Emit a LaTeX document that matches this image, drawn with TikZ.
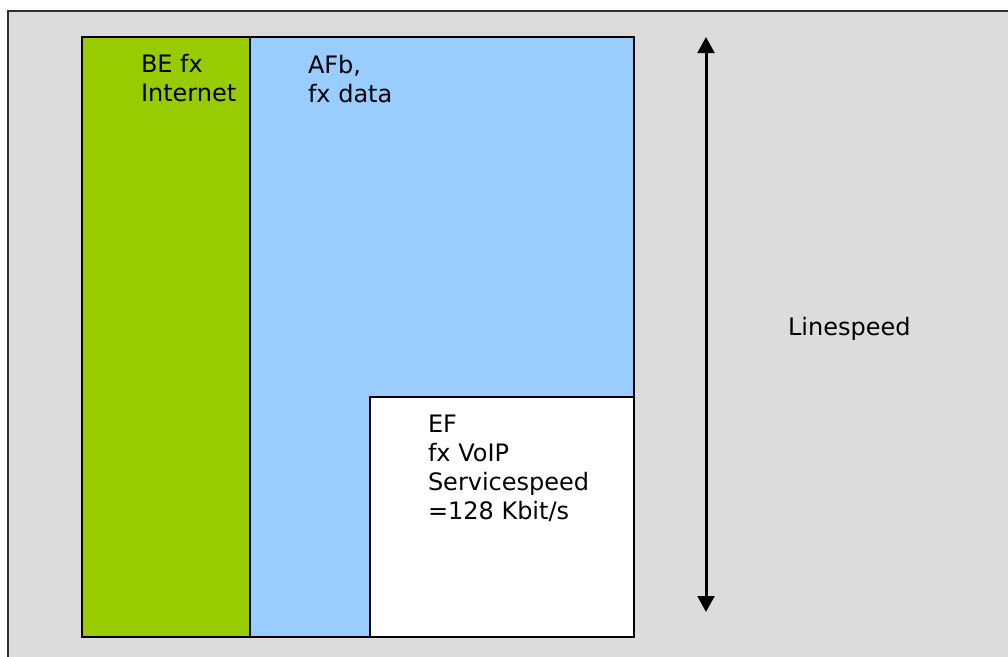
\documentclass[tikz,border=0pt]{standalone}
\usepackage{fontspec}
\setmainfont{DejaVu Sans}
\usetikzlibrary{arrows.meta}
\definecolor{bggray}{HTML}{DCDCDC}
\definecolor{framegray}{HTML}{303030}
\definecolor{begreen}{HTML}{99CC00}
\definecolor{afblue}{HTML}{99CCFF}
\tikzset{
  classbox/.style={draw=black, line width=1.6pt},
  lbl/.style={anchor=base west, inner sep=0pt, outer sep=0pt, align=left,
    font=\fontsize{18pt}{21.75pt}\selectfont, text=black},
  speedarrow/.style={line width=2.25pt, {Triangle[width=12.5pt,length=12pt]}-{Triangle[width=12.5pt,length=12pt]}}
}
\begin{document}
\begin{tikzpicture}[x=0.75pt,y=-0.75pt]
\useasboundingbox (0,0) rectangle (1008,657);
% background frame
\fill[white] (0,0) rectangle (1008,657);
\draw[fill=bggray, draw=framegray, line width=1.3pt] (8,11) rectangle (1020,670);
% bars
\draw[classbox, fill=begreen] (82,37) rectangle (250,637);
\draw[classbox, fill=afblue] (250,37) rectangle (634,637);
\draw[classbox, fill=white] (370,397) rectangle (634,637);
% labels (anchored at the baseline of the last line)
\node[lbl] (be) at (141,101) {BE fx\\Internet};
\node[lbl] (afb) at (308,102) {AFb,\\fx data};
\node[lbl] (ef) at (428,519) {EF\\fx VoIP\\Servicespeed\\=128 Kbit/s};
\node[lbl] (ls) at (788,335) {Linespeed};
% arrow
\coordinate (top) at (706,37);
\coordinate (bot) at (706,612);
\draw[speedarrow] (top) -- (bot);
\end{tikzpicture}
\end{document}
